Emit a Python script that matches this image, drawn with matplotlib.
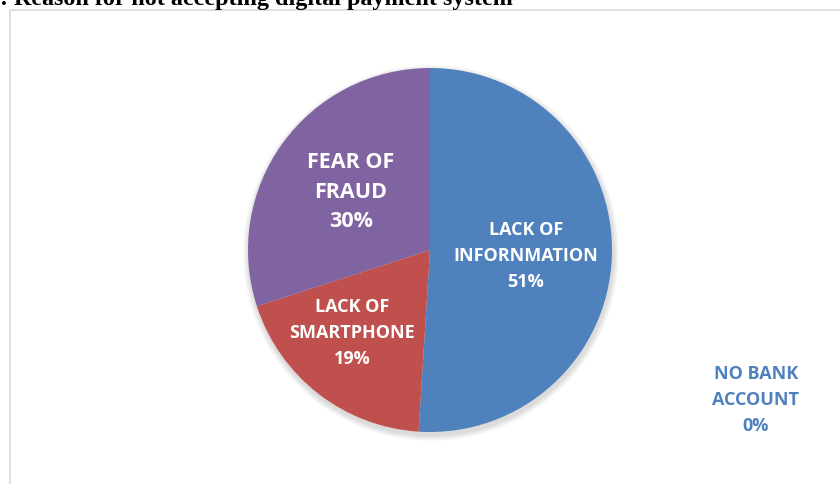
import numpy as np
import matplotlib
matplotlib.use('Agg')
import matplotlib.pyplot as plt
from matplotlib.patches import Circle

# データ
categories = ['LACK OF\nINFORNMATION', 'LACK OF\nSMARTPHONE', 'FEAR OF\nFRAUD', 'NO BANK\nACCOUNT']
shares = [51, 19, 30, 0]
colors = ['#4F81BD', '#C0504D', '#8064A2', '#9BBB59']

# ラベル位置 (ピクセル) と文字サイズ
label_pos = [(526, 256), (352, 333), (351, 192), (756, 400)]
label_size = [13, 13, 15.5, 13]
label_color = ['white', 'white', 'white', '#4F81BD']

W, H = 840, 485
fig = plt.figure(figsize=(W / 100, H / 100), dpi=100)
ax = fig.add_axes([0, 0, 1, 1])

# 枠線
ax.plot([10, 10, W + 5], [-5, H - 11, H - 11], color='#D9D9D9', lw=1.2)

cx, cy, r = 430, H - 251, 182

# うすい影
for k in range(6):
    ax.add_patch(Circle((cx + 1, cy - 3), r + 1 + k, color='black', alpha=0.025, lw=0, zorder=1))

wedges, _ = ax.pie(shares, colors=colors, startangle=90, counterclock=False,
                   center=(cx, cy), radius=r, frame=True,
                   wedgeprops=dict(linewidth=0, zorder=2))
ax.set_xlim(0, W)
ax.set_ylim(0, H)
ax.set_aspect('equal')
ax.axis('off')

for name, v, (px, py), fs, c in zip(categories, shares, label_pos, label_size, label_color):
    ax.text(px, H - py, f'{name}\n{v}%', ha='center', va='center', fontsize=fs,
            fontweight='bold', color=c, family=['Open Sans', 'DejaVu Sans'],
            linespacing=1.55, zorder=5)

# タイトル (上が切れている)
fig.text(0, (H - 5) / H, ': Reason for not accepting digital payment system',
         ha='left', va='baseline', fontsize=17.4, fontweight='bold',
         family=['Liberation Serif', 'DejaVu Serif'])

fig.savefig('out.png', dpi=100)
